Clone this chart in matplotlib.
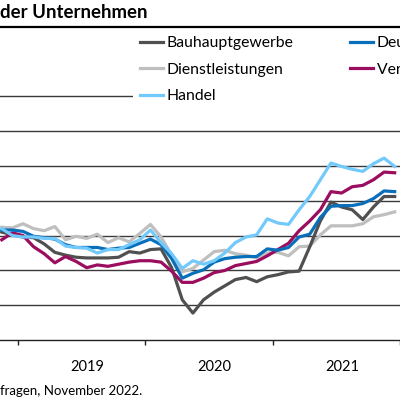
import numpy as np
import matplotlib.pyplot as plt
from matplotlib.lines import Line2D

plt.rcParams['font.family'] = ['Lato', 'DejaVu Sans']

# monthly values, Nov 2018 .. Dec 2021
months = np.arange(-2, 36) + 0.5   # months after Jan 2019, plotted mid-month
bau = [100.5, 100.1, 99.8, 99.7, 98.8, 97.6, 97.2, 96.9, 96.8, 96.8, 96.8, 96.9,
       97.7, 97.5, 98.0, 98.1, 95.4, 90.8, 88.9, 90.8, 91.9, 92.8, 93.7, 94.0,
       93.4, 94.1, 94.4, 94.8, 94.9, 98.4, 102.1, 104.8, 104.1, 103.7, 102.3, 104.1,
       105.6, 105.6]
dienst = [101.2, 101.1, 101.7, 101.0, 100.7, 101.3, 99.4, 99.9, 99.6, 100.2, 99.0, 99.7,
          99.1, 100.3, 101.6, 99.8, 97.2, 94.8, 95.3, 96.5, 97.7, 97.9, 97.4, 97.2,
          96.8, 97.5, 97.6, 97.1, 98.4, 98.5, 100.1, 101.4, 101.4, 101.4, 101.7, 102.7,
          103.0, 103.4]
handel = [101.0, 100.0, 99.8, 99.8, 99.6, 99.6, 98.5, 98.3, 98.2, 97.5, 98.0, 98.0,
          98.7, 99.4, 100.8, 99.0, 97.4, 95.3, 96.4, 95.9, 96.4, 97.5, 99.0, 99.8,
          100.1, 102.4, 101.8, 101.6, 103.7, 105.6, 108.0, 110.4, 109.9, 109.5, 109.2, 110.3,
          111.1, 109.9]
deutschland = [100.8, 100.8, 100.6, 99.9, 99.7, 99.5, 98.7, 98.3, 98.3, 98.3, 98.0, 98.2,
               98.3, 98.9, 99.5, 98.7, 96.7, 93.9, 94.6, 95.1, 96.2, 96.7, 96.9, 97.0,
               97.0, 98.1, 97.9, 98.3, 99.8, 100.2, 102.6, 104.2, 104.3, 104.3, 104.6, 105.3,
               106.4, 106.3]
verarb = [99.4, 100.4, 100.0, 98.4, 97.4, 96.1, 97.0, 96.3, 95.4, 95.8, 95.6, 95.9,
          96.2, 96.4, 96.4, 96.2, 94.9, 93.3, 93.3, 93.9, 94.7, 95.0, 95.7, 96.0,
          96.3, 97.1, 98.0, 98.9, 100.7, 102.1, 103.7, 106.3, 106.1, 107.0, 107.2, 108.0,
          109.1, 109.0]
years = ['2019', '2020', '2021']

fig = plt.figure(figsize=(4, 4), dpi=100)
ax = fig.add_axes([0, 1 - 340.3 / 400, 1, (340.3 - 96) / 400])

ax.set_ylim(85, 120)
ax.set_xlim(-1.665, 35.34)
for v in range(90, 125, 5):
    ax.axhline(v, color='#3a3a3a', lw=1.0, zorder=1, clip_on=False)

ax.plot(months, dienst, color='#bfbfbf', lw=2.3, label='Dienstleistungen', zorder=3)
ax.plot(months, bau, color='#505050', lw=2.3, label='Bauhauptgewerbe', zorder=3)
ax.plot(months, verarb, color='#9b0d5f', lw=2.3, label='Verarbeitendes Gewerbe', zorder=3)
ax.plot(months, deutschland, color='#0a6fba', lw=2.3, label='Deutschland', zorder=3)
ax.plot(months, handel, color='#72c9fb', lw=2.3, label='Handel', zorder=3)

for s in ['left', 'right', 'top']:
    ax.spines[s].set_visible(False)
ax.spines['bottom'].set_color('#222222')
ax.spines['bottom'].set_linewidth(1.0)
ax.set_yticks([])
ax.set_xticks([0, 12, 24, 36])
ax.tick_params(axis='x', which='major', length=3.5, width=1, color='#222222', labelbottom=False)
ax.set_xticks([6.55, 18.55, 30.55], years, minor=True)
ax.tick_params(axis='x', which='minor', length=0, pad=14, labelsize=10.5)

h, l = ax.get_legend_handles_labels()
order = ['Bauhauptgewerbe', 'Dienstleistungen', 'Handel', 'Deutschland', 'Verarbeitendes Gewerbe']
hh = [h[l.index(n)] for n in order]
leg = fig.legend(hh, order, ncol=2, loc='upper left', bbox_to_anchor=(133 / 400, 1 - 29.5 / 400),
                 fontsize=11.3, handlelength=1.47, handletextpad=0.25, labelspacing=0.8,
                 columnspacing=3.6, borderpad=0.42, borderaxespad=0, frameon=True,
                 fancybox=False, edgecolor='none', facecolor='white', framealpha=1)

fig.add_artist(Line2D([0, 1], [1 - 27 / 400, 1 - 27 / 400], color='black', lw=1.6, zorder=10))
fig.text(0, 1 - 13 / 400, 'der Unternehmen', fontsize=13.4, fontweight='bold', va='center', ha='left')
fig.text(0, 1 - 391 / 400, 'fragen, November 2022.', fontsize=9.5, va='center', ha='left')

fig.savefig('out.png', dpi=100)
